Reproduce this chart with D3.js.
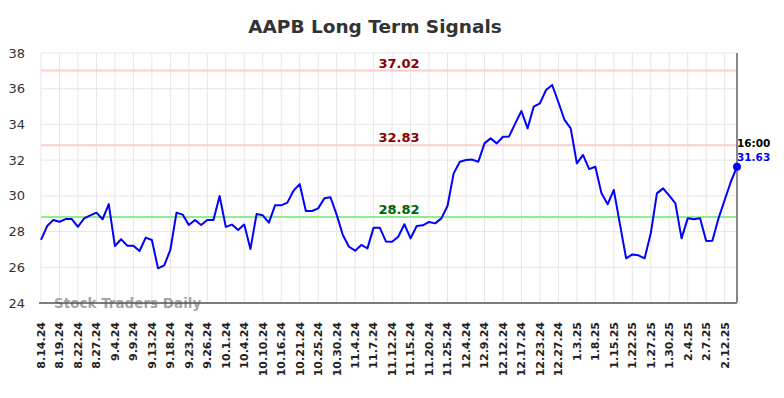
<!DOCTYPE html>
<html>
<head>
<meta charset="utf-8">
<script src="https://cdn.jsdelivr.net/npm/d3@7"></script>
<style>
  body { margin: 0; background: #fff; }
  text { font-family: "DejaVu Sans", sans-serif; }
</style>
</head>
<body>
<svg id="chart"></svg>
<script>
const WIDTH = 784;
const HEIGHT = 398;

// tick labels, one every 3 sessions
const tickLabels = [
	'8.14.24', '8.19.24', '8.22.24', '8.27.24', '9.4.24', '9.9.24', '9.13.24', '9.18.24',
	'9.23.24', '9.26.24', '10.1.24', '10.4.24', '10.10.24', '10.16.24', '10.21.24', '10.25.24',
	'10.30.24', '11.4.24', '11.7.24', '11.12.24', '11.15.24', '11.20.24', '11.25.24', '12.4.24',
	'12.9.24', '12.12.24', '12.17.24', '12.23.24', '12.27.24', '1.3.25', '1.8.25', '1.15.25',
	'1.22.25', '1.27.25', '1.30.25', '2.4.25', '2.7.25', '2.12.25'
];

// closing prices per session
const prices = [
	27.53, 28.31, 28.65, 28.55, 28.70, 28.70, 28.27, 28.74, 28.91, 29.06,
	28.69, 29.54, 27.19, 27.57, 27.21, 27.21, 26.91, 27.66, 27.53, 25.94,
	26.11, 26.97, 29.06, 28.95, 28.37, 28.65, 28.37, 28.65, 28.65, 29.99,
	28.26, 28.39, 28.09, 28.39, 27.02, 28.98, 28.91, 28.50, 29.47, 29.47,
	29.62, 30.29, 30.66, 29.15, 29.15, 29.30, 29.86, 29.92, 28.95, 27.81,
	27.15, 26.93, 27.25, 27.06, 28.22, 28.22, 27.45, 27.43, 27.71, 28.41,
	27.62, 28.31, 28.35, 28.54, 28.46, 28.74, 29.43, 31.26, 31.91, 32.01,
	32.03, 31.91, 32.94, 33.22, 32.94, 33.31, 33.33, 34.06, 34.75, 33.78,
	35.00, 35.18, 35.93, 36.21, 35.24, 34.25, 33.78, 31.82, 32.29, 31.50,
	31.63, 30.14, 29.53, 30.33, 28.40, 26.50, 26.72, 26.67, 26.50, 27.90,
	30.14, 30.42, 30.01, 29.58, 27.62, 28.74, 28.69, 28.74, 27.47, 27.49,
	28.74, 29.77, 30.79, 31.63
];

const signalLevels = [37.02, 32.83, 28.82];
const signalColors = ['#ffcccc', '#ffcccc', '#90ee90'];
const signalTextColors = ['#8b0000', '#8b0000', '#006400'];
const yTicks = [24, 26, 28, 30, 32, 34, 36, 38];
const lastTime = '16:00';

const margin = { top: 53, right: 47, bottom: 95, left: 41 };
const plotW = WIDTH - margin.left - margin.right;
const plotH = HEIGHT - margin.top - margin.bottom;

const svg = d3.select('#chart').attr('width', WIDTH).attr('height', HEIGHT);

svg.append('text')
	.attr('x', 375)
	.attr('y', 33)
	.attr('text-anchor', 'middle')
	.attr('font-size', '18.5px')
	.attr('font-weight', 'bold')
	.attr('fill', '#333')
	.text('AAPB Long Term Signals');

const x = d3.scaleLinear().domain([0, prices.length - 1]).range([0, plotW]);
const y = d3.scaleLinear().domain([24, 38]).range([plotH, 0]);

const g = svg.append('g').attr('transform', `translate(${margin.left},${margin.top})`);

// grid
g.append('g')
	.selectAll('line')
	.data(yTicks)
	.enter()
	.append('line')
	.attr('x1', 0)
	.attr('x2', plotW)
	.attr('y1', (d) => y(d))
	.attr('y2', (d) => y(d))
	.attr('stroke', '#e6e6e6')
	.attr('stroke-width', 1);

g.append('g')
	.selectAll('line')
	.data(tickLabels)
	.enter()
	.append('line')
	.attr('x1', (d, i) => x(i * 3))
	.attr('x2', (d, i) => x(i * 3))
	.attr('y1', 0)
	.attr('y2', plotH)
	.attr('stroke', '#e6e6e6')
	.attr('stroke-width', 1);

// y tick labels
g.append('g')
	.selectAll('text')
	.data(yTicks)
	.enter()
	.append('text')
	.attr('x', -16)
	.attr('y', (d) => y(d))
	.attr('dy', '0.35em')
	.attr('text-anchor', 'end')
	.attr('font-size', '13px')
	.attr('fill', '#333')
	.text((d) => d);

// x tick labels
g.append('g')
	.selectAll('text')
	.data(tickLabels)
	.enter()
	.append('text')
	.attr('transform', (d, i) => `translate(${x(i * 3)},${plotH + 19}) rotate(-90)`)
	.attr('dy', '0.35em')
	.attr('text-anchor', 'end')
	.attr('font-size', '11px')
	.attr('font-weight', 'bold')
	.attr('fill', '#222')
	.text((d) => d);

// signal lines
signalLevels.forEach((level, i) => {
	g.append('line')
		.attr('x1', 0)
		.attr('x2', plotW)
		.attr('y1', y(level))
		.attr('y2', y(level))
		.attr('stroke', signalColors[i])
		.attr('stroke-width', 2);
	g.append('text')
		.attr('x', 358)
		.attr('y', y(level) - 3)
		.attr('text-anchor', 'middle')
		.attr('font-size', '13px')
		.attr('font-weight', 'bold')
		.attr('fill', signalTextColors[i])
		.text(level.toFixed(2));
});

// watermark
g.append('text')
	.attr('x', 13)
	.attr('y', plotH + 5)
	.attr('font-size', '13.5px')
	.attr('font-weight', 'bold')
	.attr('fill', '#999')
	.attr('fill-opacity', 0.9)
	.text('Stock Traders Daily');

// axes lines
g.append('line')
	.attr('x1', -2)
	.attr('x2', plotW)
	.attr('y1', plotH)
	.attr('y2', plotH)
	.attr('stroke', '#555')
	.attr('stroke-width', 1.5);
g.append('line')
	.attr('x1', plotW)
	.attr('x2', plotW)
	.attr('y1', 0)
	.attr('y2', plotH)
	.attr('stroke', '#888')
	.attr('stroke-width', 2);

// price line
const line = d3.line()
	.x((d, i) => x(i))
	.y((d) => y(d));

g.append('path')
	.datum(prices)
	.attr('fill', 'none')
	.attr('stroke', '#0000ff')
	.attr('stroke-width', 2)
	.attr('stroke-linejoin', 'round')
	.attr('d', line);

const lastIdx = prices.length - 1;
const lastPrice = prices[lastIdx];

g.append('circle')
	.attr('cx', x(lastIdx))
	.attr('cy', y(lastPrice))
	.attr('r', 4)
	.attr('fill', '#0000ff');

g.append('text')
	.attr('x', x(lastIdx))
	.attr('y', y(lastPrice) - 20)
	.attr('font-size', '10.5px')
	.attr('font-weight', 'bold')
	.attr('fill', '#000')
	.text(lastTime);

g.append('text')
	.attr('x', x(lastIdx))
	.attr('y', y(lastPrice) - 6)
	.attr('font-size', '10.5px')
	.attr('font-weight', 'bold')
	.attr('fill', '#0000ff')
	.text(lastPrice.toFixed(2));
</script>
</body>
</html>
